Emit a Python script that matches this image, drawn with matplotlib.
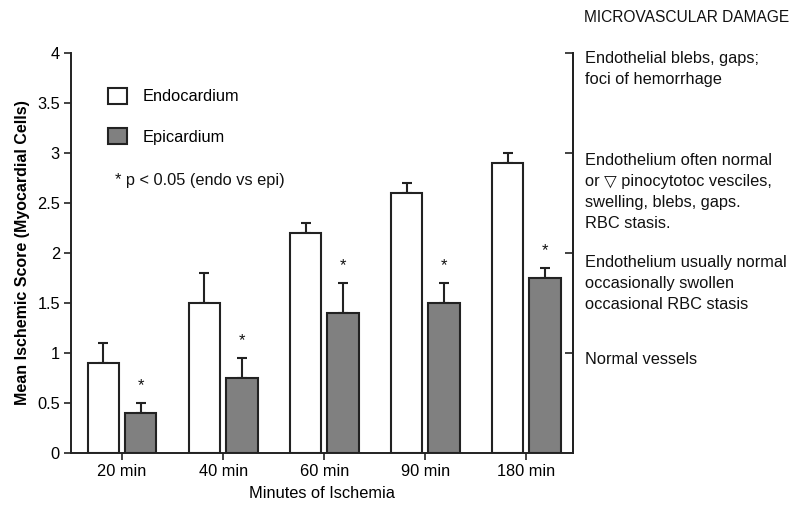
import matplotlib
matplotlib.use("Agg")
import matplotlib.pyplot as plt
import numpy as np
from matplotlib.patches import Patch
from matplotlib.transforms import blended_transform_factory

plt.rcParams['font.family'] = ['Liberation Sans', 'DejaVu Sans']

categories = ["20 min", "40 min", "60 min", "90 min", "180 min"]
endo = [0.9, 1.5, 2.2, 2.6, 2.9]
endo_err = [0.2, 0.3, 0.1, 0.1, 0.1]
epi = [0.4, 0.75, 1.4, 1.5, 1.75]
epi_err = [0.1, 0.2, 0.3, 0.2, 0.1]
significant = [True, True, True, True, True]
yticks = [0, 0.5, 1, 1.5, 2, 2.5, 3, 3.5, 4]
ytick_labels = ["0", "0.5", "1", "1.5", "2", "2.5", "3", "3.5", "4"]
damage_levels = [4, 3, 2, 1]
damage_texts = [
    "Endothelial blebs, gaps;\nfoci of hemorrhage",
    "Endothelium often normal\nor \u25BD pinocytotoc vesciles,\nswelling, blebs, gaps.\nRBC stasis.",
    "Endothelium usually normal\noccasionally swollen\noccasional RBC stasis",
    "Normal vessels",
]
damage_text_y = [4.015, 2.995, 1.975, 0.93]

edge = "#222222"
fs = 11.8
fig = plt.figure(figsize=(7.98, 5.08), dpi=100)
ax = fig.add_axes([0.089, 0.1083, 0.629, 0.7874])

x = np.arange(len(categories))
w = 0.31
off = 0.185
ax.bar(x - off, endo, w, color="white", edgecolor=edge, linewidth=1.5, zorder=2)
ax.bar(x + off, epi, w, color="#808080", edgecolor=edge, linewidth=1.5, zorder=2)
ax.errorbar(x - off, endo, yerr=[np.zeros(len(endo)), endo_err], fmt="none",
            ecolor=edge, elinewidth=1.5, capsize=3.5, capthick=1.5, zorder=1)
ax.errorbar(x + off, epi, yerr=[np.zeros(len(epi)), epi_err], fmt="none",
            ecolor=edge, elinewidth=1.5, capsize=3.5, capthick=1.5, zorder=1)
for i, s in enumerate(significant):
    if s:
        ax.text(x[i] + off, epi[i] + epi_err[i] + 0.17, "*", ha="center", va="center",
                fontsize=12, color="#111111")

ax.set_xlim(-0.505, 4.46)
ax.set_ylim(0, 4)
ax.set_xticks(x)
ax.set_xticklabels(categories, fontsize=fs)
ax.set_yticks(yticks)
ax.set_yticklabels(ytick_labels, fontsize=fs)
ax.tick_params(direction="out", length=5, width=1.2, color=edge, pad=3)
for sp in ["left", "bottom", "right"]:
    ax.spines[sp].set_linewidth(1.4)
    ax.spines[sp].set_color(edge)
ax.spines["top"].set_visible(False)

ax2 = ax.twinx()
ax2.set_ylim(0, 4)
ax2.set_yticks(damage_levels)
ax2.tick_params(direction="in", length=6, width=1.2, color=edge, labelright=False)
for sp in ["left", "bottom", "top"]:
    ax2.spines[sp].set_visible(False)
ax2.spines["right"].set_linewidth(1.4)
ax2.spines["right"].set_color(edge)

ax.set_ylabel("Mean Ischemic Score (Myocardial Cells)", fontsize=11.5, fontweight="bold", labelpad=5)
ax.set_xlabel("Minutes of Ischemia", fontsize=fs, labelpad=5)

trans = blended_transform_factory(ax.transAxes, ax.transData)
for txt, ty in zip(damage_texts, damage_text_y):
    va = "center" if "\n" not in txt else "top"
    ax.text(1.024, ty, txt, transform=trans, ha="left", va=va, fontsize=fs,
            linespacing=1.5, color="#111111")
fig.text(584 / 798, 1 - 18 / 508, "MICROVASCULAR DAMAGE", ha="left", va="center",
         fontsize=11.2, color="#111111")

handles = [Patch(facecolor="white", edgecolor=edge, linewidth=1.5, label="Endocardium"),
           Patch(facecolor="#808080", edgecolor=edge, linewidth=1.5, label="Epicardium")]
ax.legend(handles=handles, loc="upper left", bbox_to_anchor=(0.06, 0.93), frameon=False,
          fontsize=fs, handlelength=1.15, handleheight=1.15, handletextpad=1.0,
          labelspacing=1.45, borderaxespad=0)
ax.text(0.088, 2.72, "* p < 0.05 (endo vs epi)", transform=trans, ha="left", va="center",
        fontsize=fs, color="#111111")

fig.savefig("out.png", dpi=100)
